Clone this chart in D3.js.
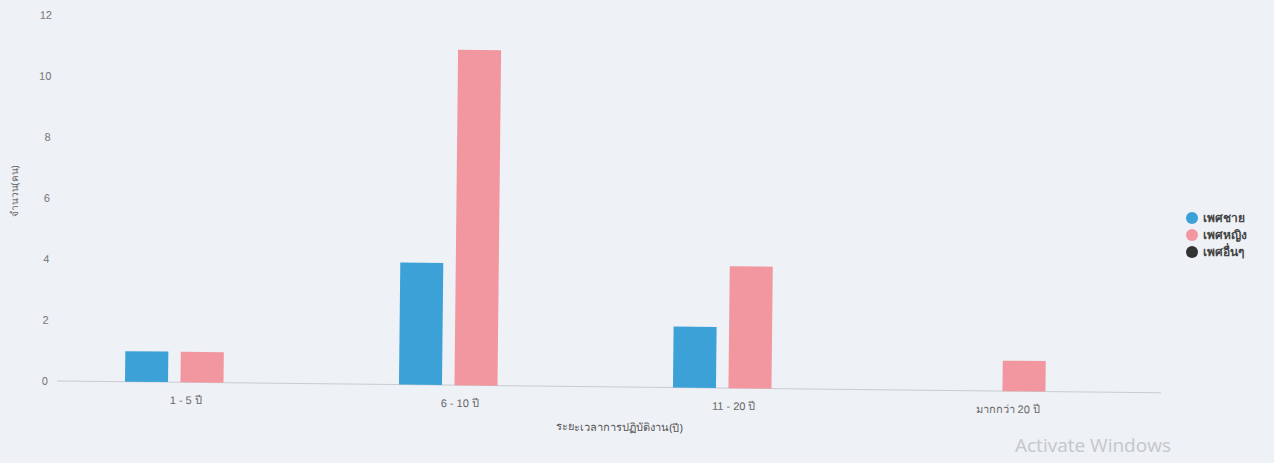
<!DOCTYPE html>
<html><head><meta charset="utf-8">
<script src="https://cdn.jsdelivr.net/npm/d3@7"></script>
<style>
html,body{margin:0;padding:0;background:#eef1f5;}
svg{display:block;font-family:"Noto Sans","DejaVu Sans",sans-serif;}
</style></head>
<body>
<svg id="chart" width="1274" height="463"></svg>
<script>
const categories = ["1 - 5 ปี", "6 - 10 ปี", "11 - 20 ปี", "มากกว่า 20 ปี"];
const seriesNames = ["เพศชาย", "เพศหญิง", "เพศอื่นๆ"];
const male   = [1, 4, 2, 0];
const female = [1, 11, 4, 1];
const other  = [0, 0, 0, 0];
const seriesValues = [male, female, other];
const yTicks = [0, 2, 4, 6, 8, 10, 12];
const colors = ["#3ca1d7", "#f2969f", "#333333"];
const xTitle = "ระยะเวลาการปฏิบัติงาน(ปี)";
const yTitle = "จำนวน(คน)";

(function () {
const svg = d3.select("#chart");
const pLeft = 65, pRight = 1161, pTop = 15, pBottom = 381;

const root = svg.append("g").attr("transform", "rotate(0.62," + pLeft + "," + pBottom + ")");

const x = d3.scaleBand().domain(categories).range([pLeft, pRight]).padding(0);
const bw = x.bandwidth();
const sub = d3.scaleBand().domain(seriesNames)
  .range([bw / 2 - 83.25, bw / 2 + 83.25]).paddingInner(0.225).paddingOuter(0.1125);
const y = d3.scaleLinear().domain([0, 12]).range([pBottom, pTop]);

// y axis labels
const yAxis = root.append("g").attr("transform", "translate(" + (pLeft - 17) + ",0)")
  .call(d3.axisLeft(y).tickValues(yTicks).tickSize(0).tickPadding(0));
yAxis.select(".domain").remove();
yAxis.selectAll("text").attr("fill", "#777").attr("font-size", 11);

// baseline
root.append("line").attr("x1", pLeft - 8).attr("x2", pRight).attr("y1", y(0)).attr("y2", y(0))
  .attr("stroke", "#c9ccd2").attr("stroke-width", 1);

// bars
const groups = root.selectAll("g.cat").data(categories).join("g")
  .attr("class", "cat").attr("transform", d => "translate(" + x(d) + ",0)");
groups.selectAll("rect").data((d, i) => seriesNames.map((s, j) => ({s, v: seriesValues[j][i], j})))
  .join("rect")
  .attr("x", d => sub(d.s))
  .attr("width", sub.bandwidth())
  .attr("y", d => y(d.v))
  .attr("height", d => y(0) - y(d.v))
  .attr("fill", d => colors[d.j]);

// x axis labels
const xAxis = root.append("g").attr("transform", "translate(-16," + (pBottom + 14) + ")")
  .call(d3.axisBottom(x).tickSize(0).tickPadding(0));
xAxis.select(".domain").remove();
xAxis.selectAll("text").attr("fill", "#666").attr("font-size", 11);

// axis titles
root.append("text").attr("x", 620).attr("y", 425).attr("text-anchor", "middle")
  .attr("fill", "#555").attr("font-size", 11).text(xTitle);
root.append("text").attr("transform", "translate(16,192) rotate(-90)").attr("text-anchor", "middle")
  .attr("fill", "#666").attr("font-size", 10).text(yTitle);

// legend
const lg = svg.append("g").attr("transform", "translate(1192,218)");
const li = lg.selectAll("g").data(seriesNames).join("g").attr("transform", (d, i) => "translate(0," + i * 17 + ")");
li.append("circle").attr("r", 6).attr("fill", (d, i) => colors[i]);
li.append("text").attr("x", 11).attr("dy", "0.35em").attr("fill", "#444").attr("font-size", 12)
  .attr("font-weight", "bold").text(d => d);

// watermark text
svg.append("text").attr("x", 1015).attr("y", 452).attr("fill", "#c4c7cc").attr("font-size", 19)
  .attr("font-family", "Open Sans, sans-serif").text("Activate Windows");
})();
</script>
</body></html>
